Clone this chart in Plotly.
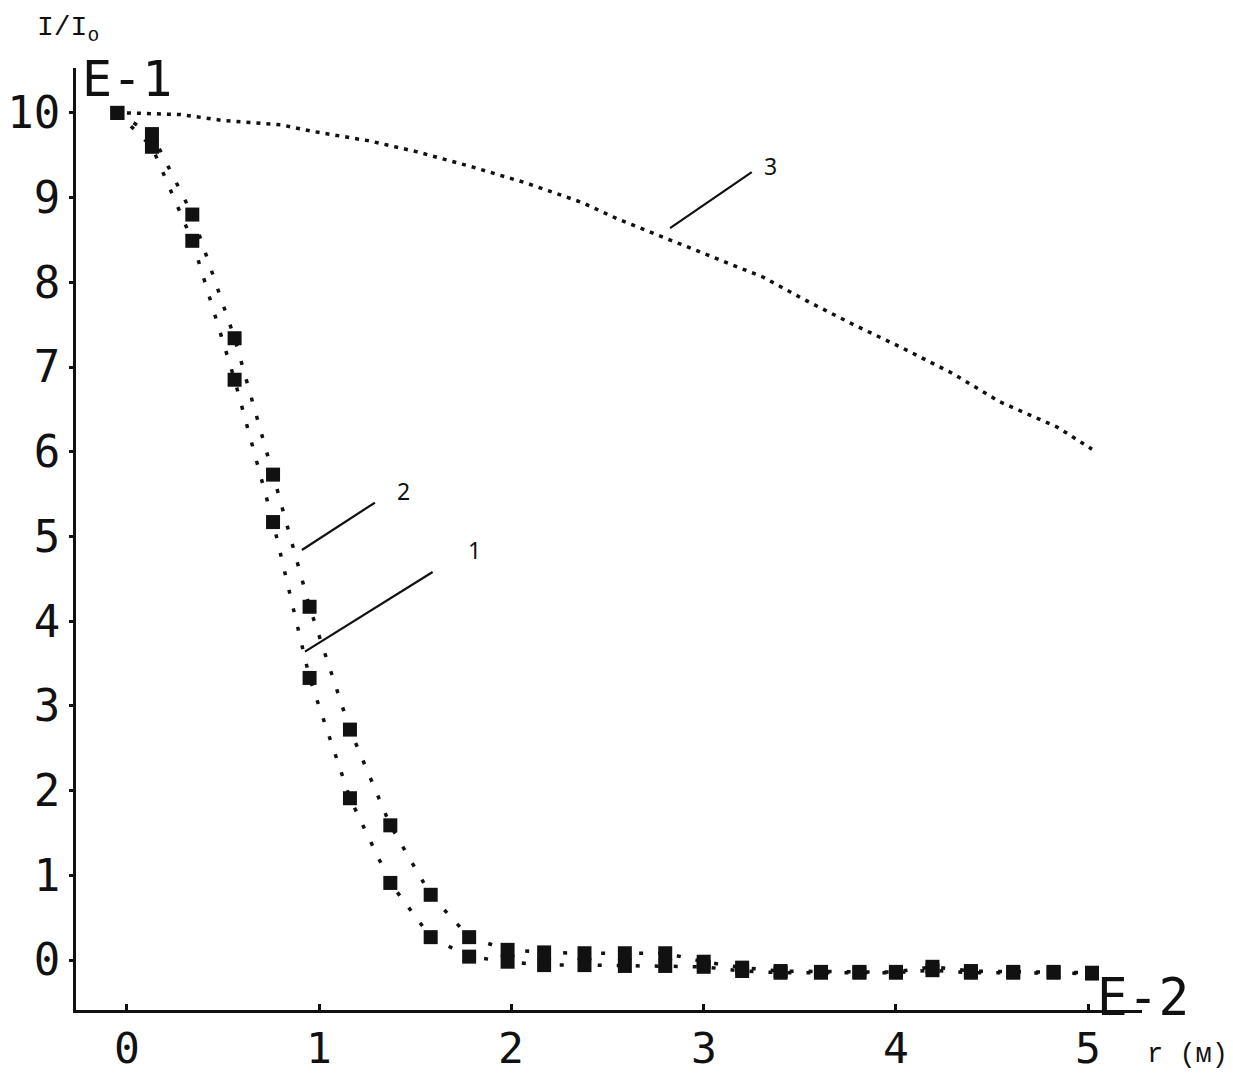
import plotly.graph_objects as go

# data (r in metres, I/Io in units of E-1)
r_markers = [-0.05, 0.13, 0.34, 0.56, 0.76, 0.95, 1.16, 1.37, 1.58, 1.78, 1.98, 2.17, 2.38,
             2.59, 2.80, 3.00, 3.20, 3.40, 3.61, 3.81, 4.00, 4.19, 4.39, 4.61, 4.82, 5.02]
curve_1 = [10.0, 9.60, 8.49, 6.85, 5.17, 3.33, 1.91, 0.91, 0.27, 0.04, -0.02, -0.06, -0.06,
           -0.07, -0.07, -0.08, -0.13, -0.15, -0.15, -0.15, -0.15, -0.12, -0.15, -0.15, -0.15, -0.16]
curve_2 = [10.0, 9.75, 8.80, 7.34, 5.73, 4.17, 2.72, 1.59, 0.77, 0.27, 0.12, 0.09, 0.08,
           0.08, 0.08, -0.02, -0.09, -0.13, -0.14, -0.14, -0.14, -0.08, -0.13, -0.14, -0.14, -0.15]

r_curve3 = [0.0, 0.28, 0.50, 0.80, 0.97, 1.26, 1.51, 1.80, 2.08, 2.37, 2.55, 2.76, 3.05,
            3.31, 3.52, 3.78, 4.02, 4.29, 4.54, 4.84, 5.02]
curve_3 = [10.0, 9.98, 9.91, 9.86, 9.78, 9.67, 9.54, 9.36, 9.17, 8.94, 8.75, 8.56, 8.30,
           8.06, 7.80, 7.50, 7.24, 6.93, 6.59, 6.29, 6.03]

x_ticks = [0, 1, 2, 3, 4, 5]
y_ticks = [0, 1, 2, 3, 4, 5, 6, 7, 8, 9, 10]

MONO = "DejaVu Sans Mono"
INK = "#111111"

fig = go.Figure()

for ys in (curve_1, curve_2):
    fig.add_trace(go.Scatter(
        x=r_markers, y=ys, mode="lines+markers",
        line=dict(color=INK, width=3.5, dash="4px,15px"),
        marker=dict(symbol="square", size=14, color=INK),
        showlegend=False,
    ))

fig.add_trace(go.Scatter(
    x=r_curve3, y=curve_3, mode="lines",
    line=dict(color=INK, width=3.5, dash="4px,6px"),
    showlegend=False,
))

# leader lines + curve numbers
leaders = [
    ("1", (0.926, 3.64), (1.59, 4.58), (1.81, 4.84)),
    ("2", (0.91, 4.84), (1.29, 5.40), (1.436, 5.54)),
    ("3", (2.825, 8.64), (3.25, 9.30), (3.345, 9.37)),
]
for label, p0, p1, pt in leaders:
    fig.add_shape(type="line", x0=p0[0], y0=p0[1], x1=p1[0], y1=p1[1],
                  xref="x", yref="y", line=dict(color=INK, width=2.2))
    fig.add_annotation(x=pt[0], y=pt[1], text=label, showarrow=False,
                       font=dict(family="Noto Sans", size=23, color=INK))

# x tick labels sit close under the axis, as on the plotter output
for v in x_ticks:
    fig.add_annotation(x=v, y=-0.012, xref="x", yref="paper", text=str(v),
                       showarrow=False, yanchor="top",
                       font=dict(family=MONO, size=43, color=INK))

# axis captions and exponent markers (paper coords, plot area = 1066 x 942 px)
fig.add_annotation(x=-0.0385, y=1.062, xref="paper", yref="paper",
                   text="I/I<sub>o</sub>", showarrow=False,
                   xanchor="left", yanchor="top",
                   font=dict(family="Liberation Mono", size=28, color=INK))
fig.add_annotation(x=0.004, y=0.988, xref="paper", yref="paper",
                   text="E-1", showarrow=False,
                   xanchor="left", yanchor="middle",
                   font=dict(family=MONO, size=50, color=INK))
fig.add_annotation(x=0.956, y=0.013, xref="paper", yref="paper",
                   text="E-2", showarrow=False,
                   xanchor="left", yanchor="middle",
                   font=dict(family=MONO, size=51, color=INK))
fig.add_annotation(x=1.003, y=-0.048, xref="paper", yref="paper",
                   text="r (м)", showarrow=False,
                   xanchor="left", yanchor="middle",
                   font=dict(family="Liberation Mono", size=27, color=INK))

fig.update_layout(
    width=1225, height=1066,
    margin=dict(l=68, r=91, t=60, b=64),
    paper_bgcolor="white", plot_bgcolor="white",
)
fig.update_xaxes(
    range=[-0.265, 5.28], tickvals=x_ticks, showticklabels=False,
    showline=True, linecolor=INK, linewidth=3, showgrid=False, zeroline=False,
    ticks="inside", ticklen=6, tickwidth=3, tickcolor=INK, automargin=False,
)
fig.update_yaxes(
    range=[-0.59, 10.53], tickvals=y_ticks, ticktext=[str(v) for v in y_ticks],
    showline=True, linecolor=INK, linewidth=3, showgrid=False, zeroline=False,
    ticks="outside", ticklen=4, tickwidth=3, tickcolor=INK,
    tickfont=dict(family=MONO, size=44, color=INK), automargin=False,
)

fig.write_html("out.html")
